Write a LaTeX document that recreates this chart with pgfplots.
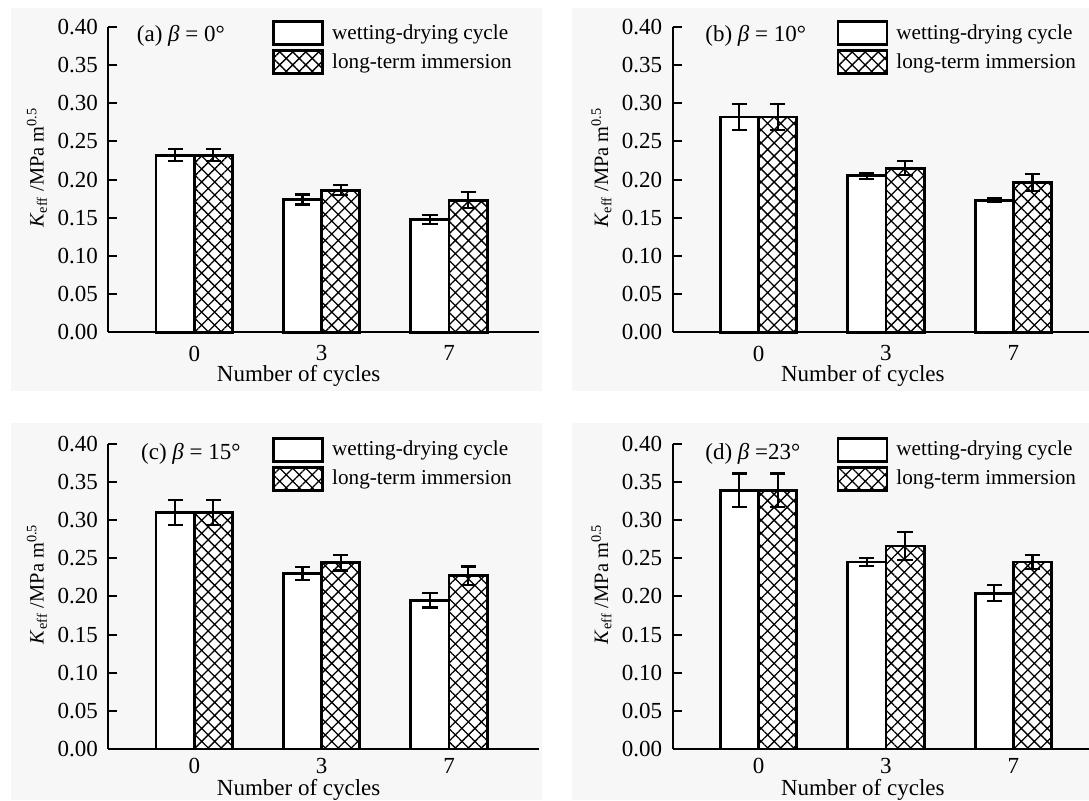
\documentclass[border=0pt]{standalone}
\usepackage{pgfplots}
\pgfplotsset{compat=1.18}
\usepackage{pgfplotstable}
\usepackage{fontspec}
\setmainfont{Liberation Serif}
\usetikzlibrary{patterns.meta}

\definecolor{panelbg}{RGB}{247,247,247}

% bar centres: wetting-drying at -0.15, 0.85, 1.85; long-term at 0.15, 1.15, 2.15
% panel (a)
\pgfplotstableread{
x y e
-0.15 0.232 0.008
0.85 0.174 0.0065
1.85 0.148 0.006
}\wdA
\pgfplotstableread{
x y e
0.15 0.232 0.008
1.15 0.186 0.0065
2.15 0.173 0.0105
}\ltA
% panel (b)
\pgfplotstableread{
x y e
-0.15 0.282 0.017
0.85 0.205 0.004
1.85 0.173 0.0025
}\wdB
\pgfplotstableread{
x y e
0.15 0.282 0.017
1.15 0.215 0.009
2.15 0.196 0.011
}\ltB
% panel (c)
\pgfplotstableread{
x y e
-0.15 0.310 0.016
0.85 0.230 0.0087
1.85 0.195 0.0096
}\wdC
\pgfplotstableread{
x y e
0.15 0.310 0.016
1.15 0.244 0.010
2.15 0.227 0.012
}\ltC
% panel (d)
\pgfplotstableread{
x y e
-0.15 0.339 0.022
0.85 0.245 0.005
1.85 0.204 0.0104
}\wdD
\pgfplotstableread{
x y e
0.15 0.339 0.022
1.15 0.266 0.018
2.15 0.245 0.0087
}\ltD

\pgfplotsset{
  panel/.style={
    scale only axis,
    anchor=south west,
    height=152.65pt,
    ymin=0, ymax=0.4,
    xmin=-0.675,
    axis lines*=left,
    axis line style={line width=1pt, black},
    tick align=inside,
    major tick length=4.5pt,
    ytick={0,0.05,...,0.41},
    ytick style={line width=1pt, black},
    xtick={0,1,2},
    xticklabels={0,3,7},
    xtick style={draw=none},
    font=\fontsize{11.5}{13.5}\selectfont,
    /pgf/number format/assume math mode=true,
    yticklabel style={/pgf/number format/fixed, /pgf/number format/fixed zerofill, /pgf/number format/precision=2, anchor=east, inner sep=0pt, xshift=-5pt},
    xticklabel style={anchor=north, inner sep=0pt, yshift=-6.5pt},
    ylabel={\textit{K}\textsubscript{eff} /MPa m\textsuperscript{0.5}},
    xlabel={Number of cycles},
    legend style={at={(axis cs:0.61,0.4095)}, anchor=north west, draw=none, fill=none, inner sep=0pt,
      row sep=1.5pt, column sep=4pt, nodes={inner sep=0pt, anchor=west}, font=\fontsize{10.6}{12.5}\selectfont},
    legend cell align=left,
    clip=false,
  },
  wdbar/.style={ybar, bar width=0.3, bar shift=0pt, draw=black, line width=1.4pt, fill=white,
    legend image code/.code={\draw[black, line width=1.4pt, fill=white] (0pt,-5.8pt) rectangle (24.5pt,5.8pt);},
    error bars/.cd, y dir=both, y explicit,
    error bar style={line width=1.1pt, black},
    error mark options={black, line width=1.1pt, mark size=3.8pt, rotate=90}},
  ltbar/.style={ybar, bar width=0.3, bar shift=0pt, draw=black, line width=1.4pt,
    preaction={fill=white},
    pattern={Hatch[angle=45, distance=4.6pt, line width=0.65pt]},
    legend image code/.code={\draw[black, line width=1.4pt, preaction={fill=white}, pattern={Hatch[angle=45, distance=4.6pt, line width=0.65pt]}] (0pt,-5.8pt) rectangle (24.5pt,5.8pt);},
    error bars/.cd, y dir=both, y explicit,
    error bar style={line width=1.1pt, black},
    error mark options={black, line width=1.1pt, mark size=3.8pt, rotate=90}},
  ylab/.style={every axis y label/.style={at={(axis description cs:#1,0.54)}, rotate=90, anchor=center, font=\fontsize{10.2}{12}\selectfont}},
}

\begin{document}
\begin{tikzpicture}
\fill[panelbg] (5.5pt,-4pt) rectangle (271pt,-195.5pt);
\fill[panelbg] (286pt,-4pt) rectangle (544.5pt,-195.5pt);
\fill[panelbg] (5.5pt,-211.5pt) rectangle (271pt,-400pt);
\fill[panelbg] (286pt,-211.5pt) rectangle (544.5pt,-400pt);

% (a)
\begin{axis}[panel, at={(54.15pt,-166.15pt)}, width=215.35pt, xmax=2.706, ylab=-0.1655,
  every axis x label/.style={at={(axis description cs:0.442,0)}, anchor=base, inner sep=0pt, yshift=-24.7pt}]
\addplot[wdbar] table[x=x, y=y, y error=e] {\wdA};
\addplot[ltbar] table[x=x, y=y, y error=e] {\ltA};
\legend{wetting-drying cycle, long-term immersion}
\node[anchor=west] at (axis description cs:0.05,0.972) {(a) \textit{β} = 0°};
\end{axis}

% (b)
\begin{axis}[panel, at={(336.25pt,-166.15pt)}, width=208.25pt, xmax=2.594, ylab=-0.1705,
  every axis x label/.style={at={(axis description cs:0.457,0)}, anchor=base, inner sep=0pt, yshift=-24.7pt}]
\addplot[wdbar] table[x=x, y=y, y error=e] {\wdB};
\addplot[ltbar] table[x=x, y=y, y error=e] {\ltB};
\legend{wetting-drying cycle, long-term immersion}
\node[anchor=west] at (axis description cs:0.062,0.972) {(b) \textit{β} = 10°};
\end{axis}

% (c)
\begin{axis}[panel, at={(54.15pt,-374.5pt)}, width=215.35pt, xmax=2.706, ylab=-0.1655,
  xticklabel style={yshift=2pt},
  every axis x label/.style={at={(axis description cs:0.442,0)}, anchor=base, inner sep=0pt, yshift=-23.4pt}]
\addplot[wdbar] table[x=x, y=y, y error=e] {\wdC};
\addplot[ltbar] table[x=x, y=y, y error=e] {\ltC};
\legend{wetting-drying cycle, long-term immersion}
\node[anchor=west] at (axis description cs:0.06,0.966) {(c) \textit{β} = 15°};
\end{axis}

% (d)
\begin{axis}[panel, at={(336.25pt,-374.5pt)}, width=208.25pt, xmax=2.594, ylab=-0.1705,
  xticklabel style={yshift=2pt},
  every axis x label/.style={at={(axis description cs:0.457,0)}, anchor=base, inner sep=0pt, yshift=-23.4pt}]
\addplot[wdbar] table[x=x, y=y, y error=e] {\wdD};
\addplot[ltbar] table[x=x, y=y, y error=e] {\ltD};
\legend{wetting-drying cycle, long-term immersion}
\node[anchor=west] at (axis description cs:0.062,0.966) {(d) \textit{β} =23°};
\end{axis}

\pgfresetboundingbox
\path[use as bounding box] (0pt,0pt) rectangle (544.5pt,-400pt);
\end{tikzpicture}
\end{document}
